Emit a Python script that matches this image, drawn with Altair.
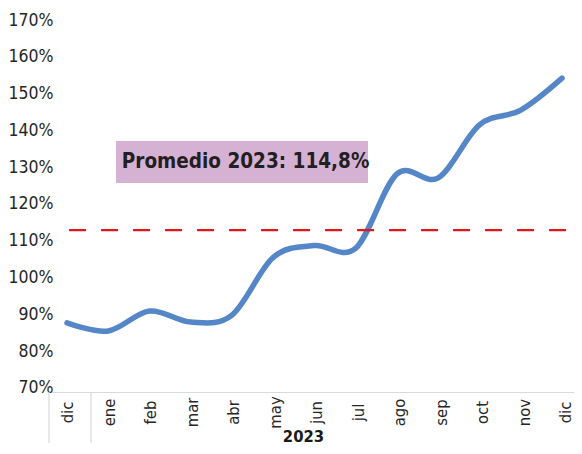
import altair as alt
import pandas as pd

# ---- data ----
months = ["dic", "ene", "feb", "mar", "abr", "may", "jun", "jul", "ago", "sep", "oct", "nov", "dic"]
values = [87.7, 85.5, 90.9, 87.9, 89.8, 105.5, 108.7, 108.0, 128.2, 127.1, 141.5, 145.5, 154.2]
y_ticks = [70, 80, 90, 100, 110, 120, 130, 140, 150, 160, 170]
avg_value = 112.9
avg_label = "Promedio 2023: 114,8%"
year_label = "2023"
group_bounds = [-0.4578, 0.554]

FONT = "DejaVu Sans Condensed"

df = pd.DataFrame({"i": list(range(len(months))), "month": months, "value": values})
avg_df = pd.DataFrame({"x": [0.05], "x2": [12.12], "y": [avg_value]})
box_df = pd.DataFrame({"x": [1.188], "x2": [7.297], "y": [137.1], "y2": [125.7],
                       "tx": [4.33], "ty": [131.4], "label": [avg_label]})
sep_df = pd.DataFrame({"x": group_bounds})

label_js = "[" + ",".join("'%s'" % m for m in months) + "]"

# scale for the plotted marks, and scale for the category labels (spaced slightly wider)
xscale = alt.Scale(domain=[-0.43636, 12.29091], nice=False, zero=False)
xlabscale = alt.Scale(domain=[-0.4578, 12.1928], nice=False, zero=False)
yscale = alt.Scale(domain=[68.9, 170], nice=False, zero=False)

x_axis = alt.Axis(
    orient="bottom",
    values=list(range(len(months))),
    labelExpr=label_js + "[datum.value]",
    labelAngle=270, labelAlign="center", labelBaseline="middle",
    labelPadding=20, labelFont=FONT, labelFontSize=16.5, labelColor="#262626",
    ticks=False, grid=False, domainColor="#d9d9d9", domainWidth=1.2,
    title=year_label, titleFont=FONT, titleFontSize=16.5, titleFontWeight="bold",
    titleColor="#1a1a1a", titleX=254, titleY=44, titleAlign="center",
    titleBaseline="middle", labelOverlap=False,
)
y_axis = alt.Axis(
    values=y_ticks, labelExpr="datum.value + '%'",
    labelFont=FONT, labelFontSize=17.5, labelColor="#262626",
    labelPadding=-4, ticks=False, domain=False, grid=False, title=None,
    labelOverlap=False,
)

line = alt.Chart(df).mark_line(
    color="#5586c7", strokeWidth=5.5, interpolate="cardinal", strokeCap="round"
).encode(
    x=alt.X("i:Q", scale=xscale, axis=None),
    y=alt.Y("value:Q", scale=yscale, axis=y_axis),
)

avg = alt.Chart(avg_df).mark_rule(
    color="#e3151d", strokeWidth=2.2, strokeDash=[17, 15]
).encode(
    x=alt.X("x:Q", scale=xscale, axis=None), x2="x2:Q",
    y=alt.Y("y:Q", scale=yscale, axis=y_axis),
)

box = alt.Chart(box_df).mark_rect(color="#d5b1d4").encode(
    x=alt.X("x:Q", scale=xscale, axis=None), x2="x2:Q",
    y=alt.Y("y:Q", scale=yscale, axis=y_axis), y2="y2:Q",
)
box_text = alt.Chart(box_df).mark_text(
    font=FONT, fontSize=20.5, fontWeight="bold", color="#231f20",
    align="center", baseline="middle",
).encode(
    x=alt.X("tx:Q", scale=xscale, axis=None),
    y=alt.Y("ty:Q", scale=yscale, axis=y_axis),
    text="label:N",
)

seps = alt.Chart(sep_df).mark_rule(color="#d9d9d9", strokeWidth=1.2).encode(
    x=alt.X("x:Q", scale=xlabscale, axis=x_axis),
    y=alt.value(372), y2=alt.value(423),
)

chart = alt.layer(line, avg, box, box_text, seps).resolve_scale(
    x="independent"
).properties(
    width=525, height=372,
    background="white",
    autosize=alt.AutoSizeParams(type="none"),
    padding={"left": 41, "top": 12, "right": 0, "bottom": 54},
).configure_view(strokeWidth=0, stroke="transparent")

chart.save("out.html", embed_options={"renderer": "svg", "actions": False})
